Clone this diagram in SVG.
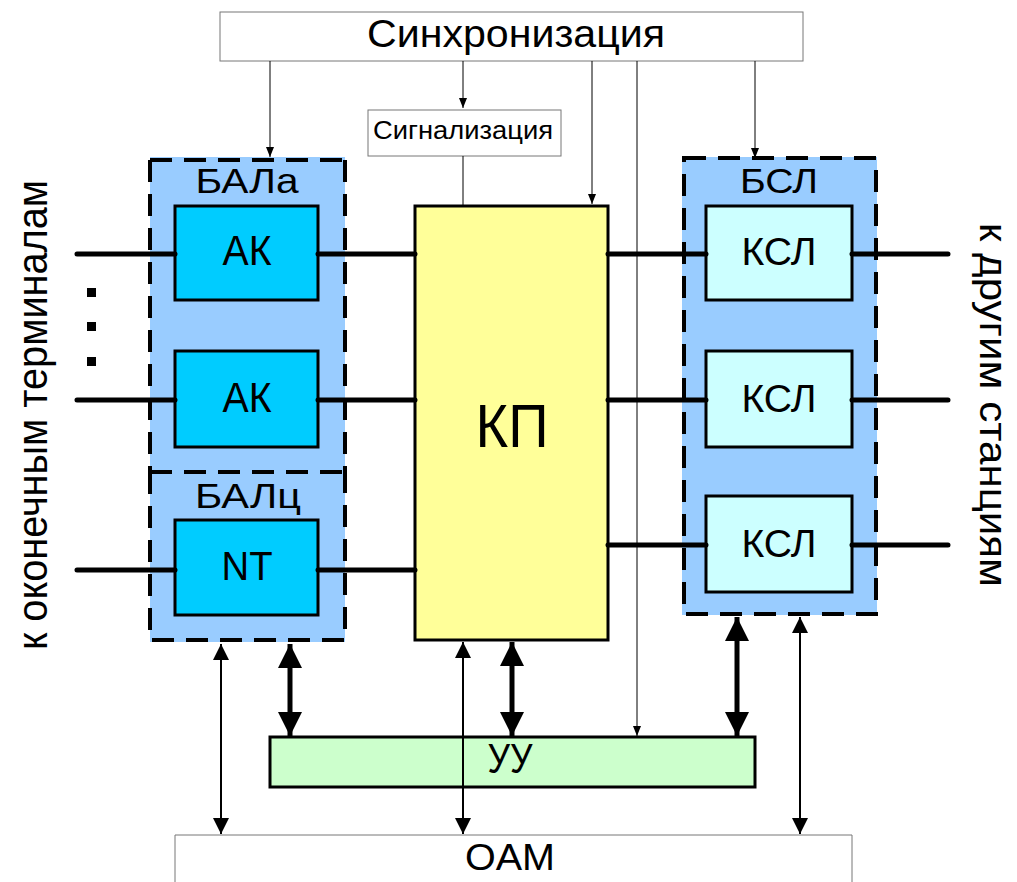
<svg xmlns="http://www.w3.org/2000/svg" width="1017" height="882" viewBox="0 0 1017 882">
<style>
text{font-family:"Liberation Sans",Arial,sans-serif;fill:#000;text-anchor:middle}
.thin{stroke:#000;stroke-width:1;fill:none}
.wire{stroke:#000;stroke-width:5;stroke-linecap:round;fill:none}
.blk{stroke:#000;stroke-width:3}
.dash{fill:none;stroke:#000;stroke-width:4;stroke-dasharray:22 12}
.arr2{stroke:#000;stroke-width:2;fill:none}
.arr5{stroke:#000;stroke-width:5;fill:none}
</style>
<defs>
<marker id="a1" viewBox="0 0 10 10" refX="10" refY="5" markerWidth="10" markerHeight="14" markerUnits="userSpaceOnUse" orient="auto"><path d="M0,1 L10,5 L0,9 z" fill="#000"/></marker>
<marker id="a2" viewBox="0 0 10 10" refX="10" refY="5" markerWidth="26" markerHeight="16" markerUnits="userSpaceOnUse" orient="auto-start-reverse"><path d="M0,0 L10,5 L0,10 z" fill="#000"/></marker>
<marker id="a3" viewBox="0 0 10 10" refX="10" refY="5" markerWidth="30" markerHeight="24" markerUnits="userSpaceOnUse" orient="auto-start-reverse"><path d="M0,0 L10,5 L0,10 z" fill="#000"/></marker>
</defs>

<g id="sync"><rect x="220" y="12" width="583" height="49" fill="#fff" stroke="#777" stroke-width="1"/><text x="516" y="47" font-size="38" textLength="298" lengthAdjust="spacingAndGlyphs">Синхронизация</text></g>
<g id="signal"><rect x="368" y="110" width="193" height="46" fill="#fff" stroke="#777" stroke-width="1"/><text x="463" y="139" font-size="25" textLength="180" lengthAdjust="spacingAndGlyphs">Сигнализация</text></g>

<g id="bala"><rect x="150" y="157" width="195" height="485" fill="#99CCFF"/>
<path class="dash" d="M150,160 H345 M150,160 V472 M345,160 V472"/>
<text x="247" y="193" font-size="35" textLength="103" lengthAdjust="spacingAndGlyphs">БАЛа</text></g>
<g id="balc"><path class="dash" d="M150,472 H345 M150,472 V640 H345 V472"/>
<text x="248" y="508" font-size="35" textLength="106" lengthAdjust="spacingAndGlyphs">БАЛц</text></g>
<g id="ak1"><rect class="blk" x="175" y="206" width="143" height="94" fill="#00CCFF"/><text x="247" y="265" font-size="42" textLength="49" lengthAdjust="spacingAndGlyphs">АК</text></g>
<g id="ak2"><rect class="blk" x="175" y="351" width="143" height="96" fill="#00CCFF"/><text x="247" y="412" font-size="42" textLength="49" lengthAdjust="spacingAndGlyphs">АК</text></g>
<g id="nt"><rect class="blk" x="175" y="520" width="143" height="95" fill="#00CCFF"/><text x="247" y="580" font-size="40" textLength="51" lengthAdjust="spacingAndGlyphs">NT</text></g>

<g id="kp"><rect class="blk" x="415" y="206" width="193" height="434" fill="#FFFF99"/><text x="512" y="447" font-size="62" textLength="73" lengthAdjust="spacingAndGlyphs">КП</text></g>

<g id="bsl"><rect x="682" y="157" width="195" height="458" fill="#99CCFF"/>
<rect class="dash" x="684" y="158" width="192" height="456"/>
<text x="779" y="193" font-size="35" textLength="78" lengthAdjust="spacingAndGlyphs">БСЛ</text></g>
<g id="ksl1"><rect class="blk" x="706" y="206" width="146" height="94" fill="#CCFFFF"/><text x="779" y="265" font-size="39" textLength="75" lengthAdjust="spacingAndGlyphs">КСЛ</text></g>
<g id="ksl2"><rect class="blk" x="706" y="351" width="146" height="96" fill="#CCFFFF"/><text x="779" y="412" font-size="39" textLength="75" lengthAdjust="spacingAndGlyphs">КСЛ</text></g>
<g id="ksl3"><rect class="blk" x="706" y="496" width="146" height="96" fill="#CCFFFF"/><text x="779" y="557" font-size="39" textLength="75" lengthAdjust="spacingAndGlyphs">КСЛ</text></g>

<g id="uu"><rect class="blk" x="270" y="737" width="485" height="50" fill="#CCFFCC"/><text x="510" y="773" font-size="42" textLength="45" lengthAdjust="spacingAndGlyphs">УУ</text></g>
<g id="oam"><path d="M175,882 V835 H852 V882" fill="#fff" stroke="#777" stroke-width="1"/><text x="510" y="870" font-size="36" textLength="90" lengthAdjust="spacingAndGlyphs">OAM</text></g>

<g id="label-left"><text transform="translate(47,415) rotate(-90)" font-size="42" textLength="470" lengthAdjust="spacingAndGlyphs">к оконечным терминалам</text></g>
<g id="label-right"><text transform="translate(980,405) rotate(90)" font-size="38" textLength="364" lengthAdjust="spacingAndGlyphs">к другим станциям</text></g>

<g id="dots" fill="#000"><rect x="87" y="288" width="9" height="9"/><rect x="87" y="322" width="9" height="9"/><rect x="87" y="357" width="9" height="9"/></g>

<g id="connectors">
<path class="thin" d="M270,61 V157" marker-end="url(#a1)"/>
<path class="thin" d="M463,61 V108" marker-end="url(#a1)"/>
<path class="thin" d="M463,156 V206"/>
<path class="thin" d="M592,61 V204" marker-end="url(#a1)"/>
<path class="thin" d="M637,61 V736" marker-end="url(#a1)"/>
<path class="thin" d="M755,61 V158" marker-end="url(#a1)"/>

<path class="wire" d="M77,254 H175 M318,254 H415 M77,400 H175 M318,400 H415 M77,570 H175 M318,570 H415"/>
<path class="wire" d="M608,254 H706 M852,254 H948 M608,400 H706 M852,400 H948 M608,545 H706 M852,545 H948"/>

<path class="arr2" d="M221,644 V834" marker-start="url(#a2)" marker-end="url(#a2)"/>
<path class="arr2" d="M463,642 V834" marker-start="url(#a2)" marker-end="url(#a2)"/>
<path class="arr2" d="M800,617 V834" marker-start="url(#a2)" marker-end="url(#a2)"/>
<path class="arr5" d="M290,644 V736" marker-start="url(#a3)" marker-end="url(#a3)"/>
<path class="arr5" d="M512,642 V736" marker-start="url(#a3)" marker-end="url(#a3)"/>
<path class="arr5" d="M737,617 V736" marker-start="url(#a3)" marker-end="url(#a3)"/>
</g>
</svg>
